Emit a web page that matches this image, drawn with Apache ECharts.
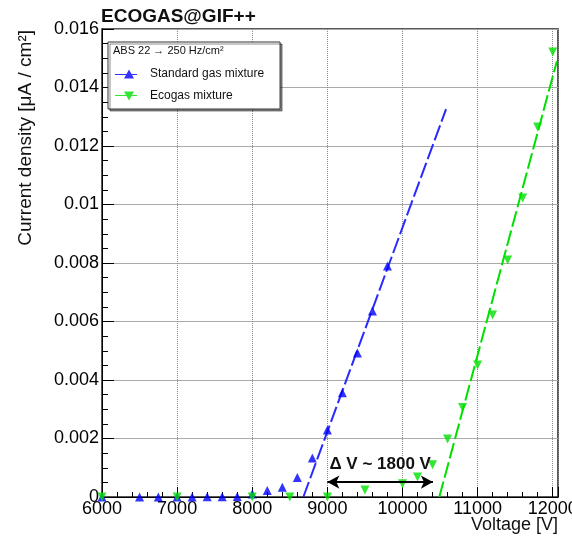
<!DOCTYPE html>
<html><head><meta charset="utf-8">
<script src="https://cdn.jsdelivr.net/npm/echarts@6/dist/echarts.min.js"></script>
<style>html,body{margin:0;padding:0;background:#fff}#c{width:572px;height:541px}</style>
</head><body><div id="c"></div>
<script>
// ---- data ----
const xTicks = [6000, 7000, 8000, 9000, 10000, 11000, 12000];
const yTicks = [0, 0.002, 0.004, 0.006, 0.008, 0.01, 0.012, 0.014, 0.016];
const yTickLabels = ['0', '0.002', '0.004', '0.006', '0.008', '0.01', '0.012', '0.014', '0.016'];

const standardV = [6000, 6500, 6750, 7000, 7200, 7400, 7600, 7800, 8000, 8200, 8400, 8600, 8800, 9000, 9200, 9400, 9600, 9800];
const standardJ = [0, 0, 0, 0, 0, 0.00001, 0.00001, 0.00002, 0.0001, 0.00022, 0.00033, 0.00067, 0.00133, 0.00229, 0.00356, 0.00492, 0.00636, 0.0079];

const ecoV = [6000, 7000, 8000, 8500, 9000, 9500, 10000, 10200, 10400, 10600, 10800, 11000, 11200, 11400, 11600, 11800, 12000];
const ecoJ = [0, 0, 0, 0, 0, 0.00024, 0.00045, 0.00068, 0.0011, 0.00198, 0.00306, 0.00451, 0.00622, 0.0081, 0.01022, 0.01265, 0.01521];

const standardFitV = [8680, 10580];
const standardFitJ = [0, 0.01326];
const ecoFitV = [10490, 12055];
const ecoFitJ = [0, 0.0149];

const deltaV = [9000, 10405];
const deltaJ = 0.00051;
const deltaLabel = 'Δ V ~ 1800 V';

const seriesNames = ['Standard gas mixture', 'Ecogas mixture'];
const legendHeader = 'ABS 22 → 250 Hz/cm²';
const chartTitle = 'ECOGAS@GIF++';
const xTitle = 'Voltage [V]';
const yTitle = 'Current density [μA / cm²]';

// ---- chart ----
const BLUE = '#0000ff', GREEN = '#00e000';
const FONT = '"Liberation Sans", Arial, sans-serif';
const zip = (a, b) => a.map((v, i) => [v, b[i]]);

const chart = echarts.init(document.getElementById('c'), null, {renderer: 'canvas'});
chart.setOption({
  animation: false,
  backgroundColor: '#fff',
  grid: {left: 102, right: 14, top: 29, bottom: 44, outerBoundsMode: 'none', containLabel: false,
         show: true, borderColor: '#222', borderWidth: 1.5, backgroundColor: 'transparent'},
  xAxis: {
    type: 'value', min: 6000, max: 12070, interval: 1000,
    axisLine: {show: true, onZero: false, lineStyle: {color: '#000'}},
    axisTick: {show: true, inside: true, length: 10, lineStyle: {color: '#000'}},
    minorTick: {show: true, splitNumber: 5, length: 5, lineStyle: {color: '#000'}},
    splitLine: {show: true, lineStyle: {color: '#888', type: 'dotted', width: 1}},
    axisLabel: {
      margin: 3, fontSize: 18, color: '#000', fontFamily: FONT,
      formatter: v => xTicks.includes(v) ? String(v) : ''
    }
  },
  yAxis: {
    type: 'value', min: 0, max: 0.016, interval: 0.002,
    axisLine: {show: true, lineStyle: {color: '#000'}},
    axisTick: {show: true, inside: true, length: 12, lineStyle: {color: '#000'}},
    minorTick: {show: true, splitNumber: 4, length: 6, lineStyle: {color: '#000'}},
    splitLine: {show: true, lineStyle: {color: '#aaa', type: 'solid', width: 1}},
    axisLabel: {
      margin: 3, fontSize: 18, color: '#000', fontFamily: FONT,
      formatter: v => {
        let best = 0;
        yTicks.forEach((t, i) => { if (Math.abs(t - v) < Math.abs(yTicks[best] - v)) best = i; });
        return yTickLabels[best];
      }
    }
  },
  legend: {
    orient: 'vertical', left: 108, top: 42,
    padding: [26, 16, 7, 7], itemGap: 10, itemWidth: 22, itemHeight: 10,
    backgroundColor: '#fff', borderColor: '#333', borderWidth: 1,
    shadowColor: 'rgba(0,0,0,0.45)', shadowOffsetX: 2, shadowOffsetY: 2, shadowBlur: 0,
    textStyle: {fontSize: 12, color: '#111', fontFamily: FONT, padding: [0, 0, 0, 8]},
    data: [
      {name: seriesNames[0], icon: 'path://M0,4.5L22,4.5L22,5.5L0,5.5Z M14,0L19,9L9,9Z', itemStyle: {color: BLUE}},
      {name: seriesNames[1], icon: 'path://M0,4.5L22,4.5L22,5.5L0,5.5Z M9,1L19,1L14,10Z', itemStyle: {color: GREEN}}
    ]
  },
  graphic: [
    {type: 'text', left: 101, top: 7, z: 100, style: {text: chartTitle, font: 'bold 19px ' + FONT, fill: '#111'}},
    {type: 'text', x: 113, y: 51, z: 100, style: {text: legendHeader, font: '11px ' + FONT, fill: '#111', verticalAlign: 'middle'}},
    {type: 'text', x: 558, y: 525, z: 100, style: {text: xTitle, font: '18px ' + FONT, fill: '#111', align: 'right', verticalAlign: 'middle'}},
    {type: 'text', x: 26, y: 30, rotation: Math.PI / 2, z: 100, style: {text: yTitle, font: '19px ' + FONT, fill: '#111', align: 'right', verticalAlign: 'middle'}}
  ],
  series: [
    {
      name: seriesNames[0] + ' fit', type: 'line', data: zip(standardFitV, standardFitJ),
      showSymbol: false, symbol: 'none', silent: true, z: 2,
      lineStyle: {color: '#2a2aff', width: 2, type: [16, 4]}
    },
    {
      name: seriesNames[1] + ' fit', type: 'line', data: zip(ecoFitV, ecoFitJ),
      showSymbol: false, symbol: 'none', silent: true, z: 2,
      lineStyle: {color: GREEN, width: 2, type: [16, 4]},
      markLine: {
        silent: true, symbol: ['arrow', 'arrow'], symbolSize: [10, 12],
        lineStyle: {color: '#000', width: 2, type: 'solid'},
        label: {show: true, position: 'middle', formatter: deltaLabel, distance: 9, fontSize: 17, fontWeight: 'bold', color: '#111', fontFamily: FONT},
        data: [[{coord: [deltaV[0], deltaJ]}, {coord: [deltaV[1], deltaJ]}]]
      }
    },
    {
      name: seriesNames[0], type: 'scatter', data: zip(standardV, standardJ),
      symbol: 'triangle', symbolSize: 9, clip: false, z: 3,
      itemStyle: {color: BLUE}
    },
    {
      name: seriesNames[1], type: 'scatter', data: zip(ecoV, ecoJ),
      symbol: 'triangle', symbolRotate: 180, symbolSize: 9, clip: false, z: 4,
      itemStyle: {color: GREEN}
    }
  ]
});
</script></body></html>
